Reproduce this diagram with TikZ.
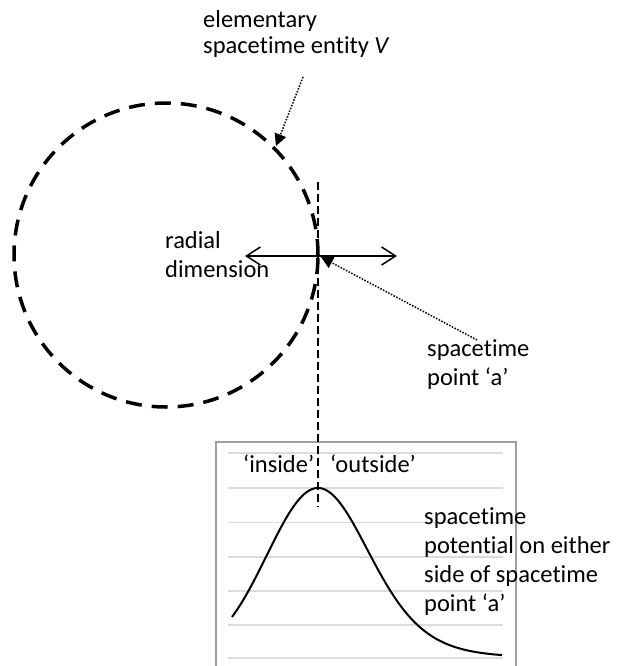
\documentclass[tikz,border=0pt]{standalone}
\usepackage{fontspec}
\setmainfont[Ligatures={NoCommon}]{Carlito}
\usetikzlibrary{arrows.meta}
\begin{document}
\begin{tikzpicture}[x=1pt,y=-1pt,
  lbl/.style={anchor=base west, inner sep=0pt, align=left, font=\fontsize{24.5}{29}\selectfont},
  entity/.style={circle, draw, line width=3.5pt, dash pattern=on 16pt off 10pt, minimum size=304pt, inner sep=0pt, outer sep=0pt},
  pointer/.style={line width=1.5pt, dash pattern=on 1.5pt off 1.5pt, -{Triangle[length=12pt,width=12pt]}},
  axisline/.style={line width=1.5pt, {Straight Barb[length=14pt,width=18pt]}-{Straight Barb[length=14pt,width=18pt]}},
  marker/.style={line width=2pt, dash pattern=on 8pt off 4pt},
  frame/.style={draw=black!38, line width=1.2pt},
  gridline/.style={draw=black!14, line width=1.2pt},
  curve/.style={line width=2pt, line join=round},
  declare function={sg(\t)=(\t<318)*0.51+(\t>=318)*(0.51+0.04*((\t-318)/100)^2);
                    gs(\t)=658-170*exp(-(((\t-318)/100)^2)/(2*sg(\t)^2));}]
\useasboundingbox (0,0) rectangle (618,666);

% chart
\foreach \yy in {453,488,522.5,557,591,625,658}
  \draw[gridline] (228,\yy) -- (503,\yy);
\draw[frame] (216,668) -- (216,442) -- (516,442) -- (516,668);
\draw[curve] plot[domain=232:502, samples=120, smooth] (\x,{gs(\x)});

% entity circle
\node[entity] (V) at (166,255) {};

% coordinates
\coordinate (vtop) at (318,182);
\coordinate (vbot) at (318,507);
\coordinate (a) at (321,257);
\coordinate (aleft) at (245,256);
\coordinate (aright) at (397,256);
\coordinate (vfrom) at (303,77);
\coordinate (vto) at (276,146);
\coordinate (pfrom) at (477,340);

\draw[marker] (vtop) -- (vbot);
\draw[axisline] (aleft) -- (aright);
\draw[pointer] (vfrom) -- (vto);
\draw[pointer] (pfrom) -- (a);

% labels (anchor = baseline of last line)
\node[lbl, font=\fontsize{24.5}{26.5}\selectfont] (title) at (203,54) {elementary\\spacetime entity \textit{V}};
\node[lbl] (radial) at (165,277) {radial\\dimension};
\node[lbl] (plabel) at (427,385) {spacetime\\point ‘a’};
\node[lbl] (clabel) at (424,611) {spacetime\\potential on either\\side of spacetime\\point ‘a’};
\node[lbl] (inside) at (243,472) {‘inside’};
\node[lbl] (outside) at (330,472) {‘outside’};
\end{tikzpicture}
\end{document}
